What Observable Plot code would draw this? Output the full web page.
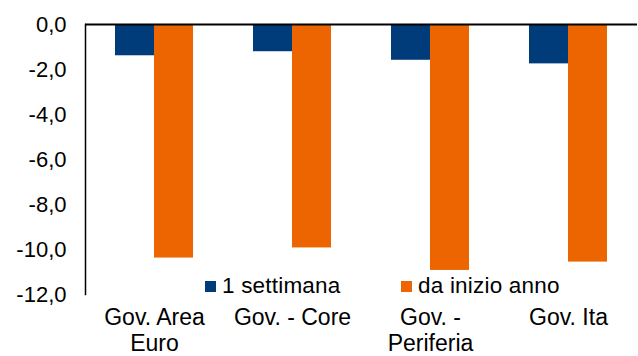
<!DOCTYPE html>
<html>
<head>
<meta charset="utf-8">
<script src="https://cdn.jsdelivr.net/npm/d3@7"></script>
<script src="https://cdn.jsdelivr.net/npm/@observablehq/plot@0.6"></script>
<style>
  html, body { margin: 0; padding: 0; background: #fff; }
  #wrap { position: relative; width: 638px; height: 356px; font-family: "Liberation Sans", Arial, sans-serif; }
  #legend { position: absolute; top: 275px; left: 205px; display: flex; font-size: 22.5px; line-height: 22px; color: #000; letter-spacing: 0.2px; }
  .item { display: flex; align-items: center; }
  .sw { width: 11px; height: 11px; margin-right: 6px; }
</style>
</head>
<body>
<div id="wrap"></div>
<script>
const categories = ["Gov. Area Euro", "Gov. - Core", "Gov. - Periferia", "Gov. Ita"];
const categoryLabels = ["Gov. Area\nEuro", "Gov. - Core", "Gov. -\nPeriferia", "Gov. Ita"];
const series = ["1 settimana", "da inizio anno"];
const settimana = [-1.39, -1.21, -1.59, -1.75];
const inizioAnno = [-10.38, -9.93, -10.93, -10.56];
const yTicks = [0, -2, -4, -6, -8, -10, -12];
const colors = ["#003b7a", "#ec6500"];

const data = [];
categories.forEach((c, i) => {
  data.push({category: c, series: series[0], value: settimana[i]});
  data.push({category: c, series: series[1], value: inizioAnno[i]});
});

const fmt = d => d.toFixed(1).replace(".", ",");

const chart = Plot.plot({
  width: 638,
  height: 356,
  marginTop: 24,
  marginBottom: 62,
  marginLeft: 84,
  marginRight: 0,
  style: {fontFamily: "'Liberation Sans', Arial, sans-serif", fontSize: "22px", color: "#000", background: "#fff"},
  fx: {domain: categories, padding: 0, label: null, axis: null},
  x: {domain: series, paddingInner: 0, paddingOuter: 0.731, axis: null},
  y: {domain: [-12, 0], label: null, axis: null},
  color: {domain: series, range: colors},
  marks: [
    Plot.barY(data, {fx: "category", x: "series", y: "value", fill: "series"}),
    Plot.ruleY([0], {stroke: "#000", strokeWidth: 2}),
    Plot.frame({anchor: "left", facetAnchor: "left", stroke: "#000", strokeWidth: 1.5}),
    Plot.axisY({ticks: yTicks, tickSize: 0, tickPadding: 19, tickFormat: fmt, label: null, fill: "#000"}),
    Plot.axisFx({anchor: "bottom", tickSize: 0, tickPadding: 13, lineHeight: 1.1, fontSize: 23, label: null, fill: "#000",
      tickFormat: d => categoryLabels[categories.indexOf(d)]})
  ]
});

const wrap = document.getElementById("wrap");
wrap.appendChild(chart);

const legend = document.createElement("div");
legend.id = "legend";
series.forEach((s, i) => {
  const item = document.createElement("div");
  item.className = "item";
  if (i === 0) item.style.width = "196px";
  const sw = document.createElement("div");
  sw.className = "sw";
  sw.style.background = colors[i];
  const t = document.createElement("span");
  t.textContent = s;
  item.appendChild(sw);
  item.appendChild(t);
  legend.appendChild(item);
});
wrap.appendChild(legend);
</script>
</body>
</html>
